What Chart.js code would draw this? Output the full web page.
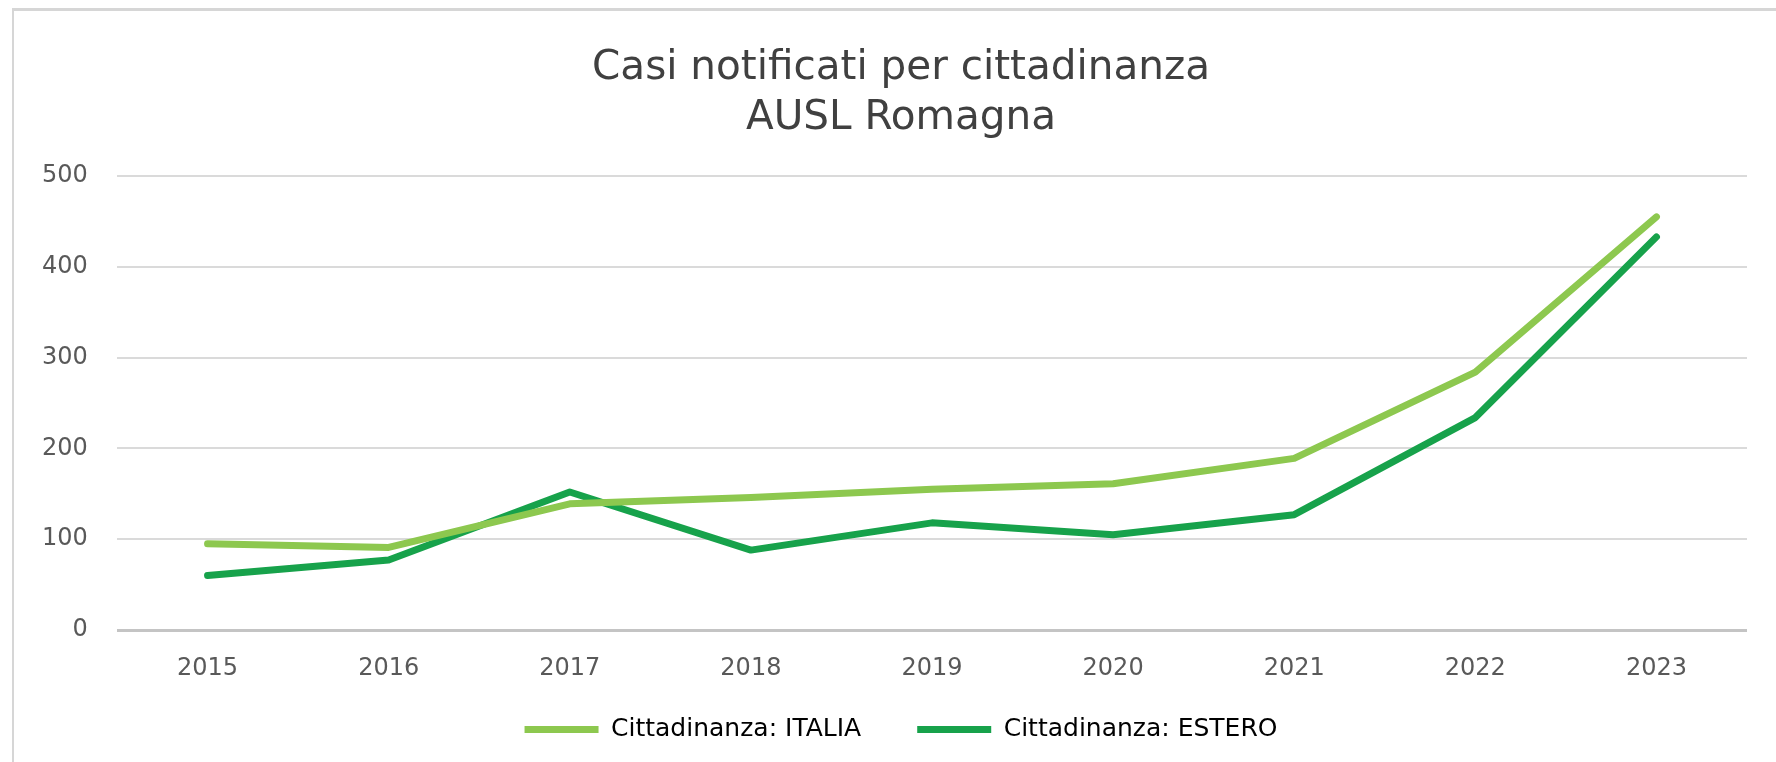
<!DOCTYPE html>
<html>
<head>
<meta charset="utf-8">
<script src="https://cdn.jsdelivr.net/npm/chart.js@4.4.1/dist/chart.umd.min.js"></script>
<style>
  html, body { margin: 0; padding: 0; background: #ffffff; }
  body { width: 1776px; height: 762px; position: relative; overflow: hidden; }
  #frame { position: absolute; left: 12px; top: 8px; width: 1900px; height: 900px;
           border-left: 2px solid #d6d6d6; border-top: 3px solid #d6d6d6; }
  #wrap { position: absolute; left: 0; top: 0; width: 1776px; height: 762px; }
</style>
</head>
<body>
<div id="frame"></div>
<div id="wrap"><canvas id="c" width="1776" height="762"></canvas></div>
<script>
const titleLines = ["Casi notificati per cittadinanza", "AUSL Romagna"];
const categories = ["2015", "2016", "2017", "2018", "2019", "2020", "2021", "2022", "2023"];
const seriesNames = ["Cittadinanza: ITALIA", "Cittadinanza: ESTERO"];
const italiaValues = [95, 91, 139, 146, 155, 161, 189, 284, 455];
const esteroValues = [60, 77, 152, 88, 118, 105, 127, 234, 433];
const yTicks = [0, 100, 200, 300, 400, 500];

const colItalia = '#8dc84f';
const colEstero = '#17a24b';
const tickFont = { family: 'DejaVu Sans', size: 24 };

new Chart(document.getElementById('c'), {
  type: 'line',
  data: {
    labels: categories,
    datasets: [
      { label: seriesNames[0], data: italiaValues, borderColor: colItalia, backgroundColor: colItalia,
        borderWidth: 7, pointRadius: 0, tension: 0, borderJoinStyle: 'round', borderCapStyle: 'round' },
      { label: seriesNames[1], data: esteroValues, borderColor: colEstero, backgroundColor: colEstero,
        borderWidth: 7, pointRadius: 0, tension: 0, borderJoinStyle: 'round', borderCapStyle: 'round' }
    ]
  },
  options: {
    responsive: false,
    animation: false,
    devicePixelRatio: 1,
    layout: { padding: { left: 55, right: 29, top: 0, bottom: 10 } },
    plugins: {
      tooltip: { enabled: false },
      title: {
        display: true,
        text: titleLines,
        color: '#404040',
        font: { family: 'DejaVu Sans', size: 40.5, weight: 'normal', lineHeight: 1.235 },
        padding: { top: 43, bottom: 33 }
      },
      legend: {
        position: 'bottom',
        labels: {
          color: '#404040',
          font: { family: 'DejaVu Sans', size: 25 },
          boxWidth: 74,
          boxHeight: 7,
          padding: 56,
          generateLabels: (chart) => chart.data.datasets.map((ds, i) => ({
            text: ds.label,
            fillStyle: ds.borderColor,
            strokeStyle: ds.borderColor,
            lineWidth: 0,
            hidden: false,
            datasetIndex: i
          }))
        }
      }
    },
    scales: {
      x: {
        type: 'category',
        offset: true,
        grid: { display: false, drawTicks: false },
        border: { display: false },
        ticks: { color: '#595959', font: tickFont, padding: -53, maxRotation: 0, mirror: true },
        afterFit: (s) => { s.height = 31; }
      },
      y: {
        min: 0,
        max: 500,
        afterBuildTicks: (s) => { s.ticks = yTicks.map(v => ({ value: v })); },
        grid: {
          drawTicks: false,
          color: (ctx) => ctx.tick && ctx.tick.value === 0 ? '#c4c4c4' : '#dadada',
          lineWidth: (ctx) => ctx.tick && ctx.tick.value === 0 ? 3 : 2
        },
        border: { display: false },
        ticks: { color: '#595959', font: tickFont, mirror: true, crossAlign: 'far', padding: -75 },
        afterFit: (s) => { s.width = 62; }
      }
    }
  }
});
</script>
</body>
</html>
